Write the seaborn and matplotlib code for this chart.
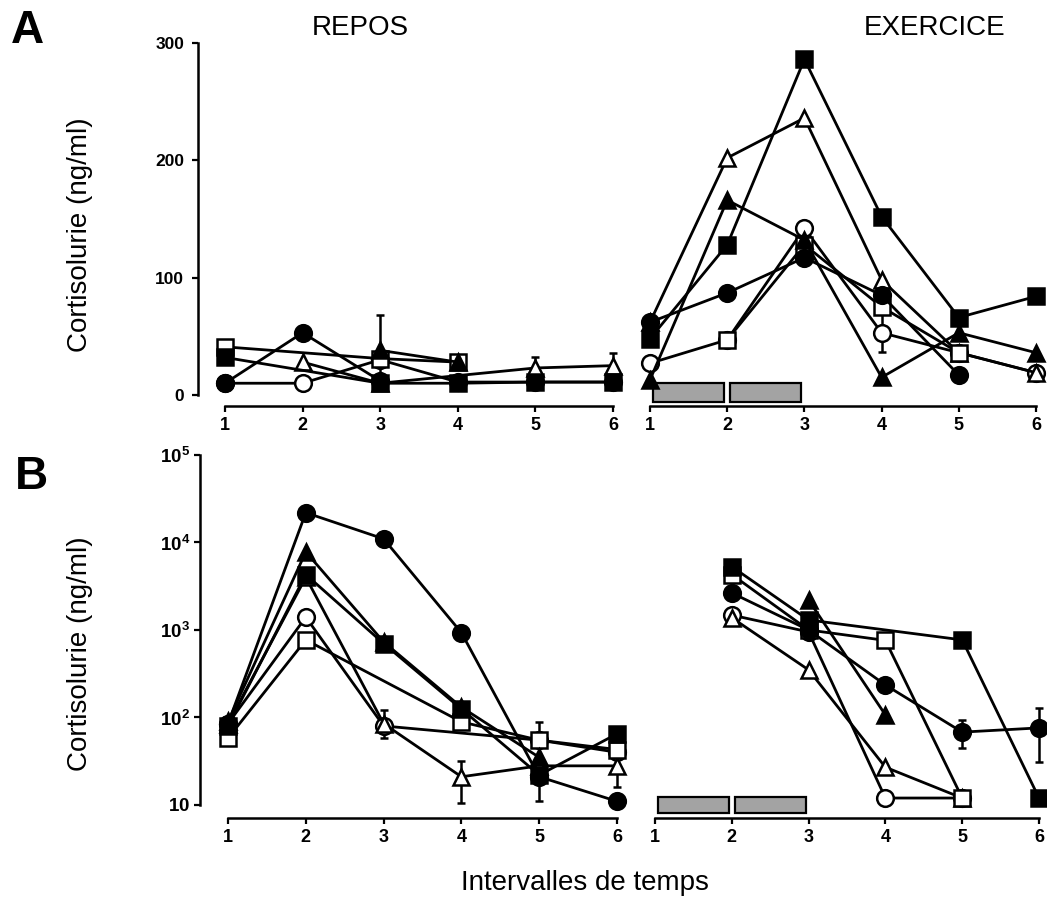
import numpy as np
import pandas as pd
import matplotlib
matplotlib.use("Agg")
import matplotlib.pyplot as plt
from matplotlib.ticker import NullLocator
import seaborn as sns

nan = np.nan
intervals = [1, 2, 3, 4, 5, 6]

# marker key: fc = filled circle, oc = open circle, fs = filled square,
# os = open square, ft = filled triangle, ot = open triangle
# (drawing order: open markers first, filled ones on top)
series_keys = ["oc", "ot", "os", "fs", "ft", "fc"]

# Panel A (linear, ng/ml) - repos
a_repos = {
    "fc": [10, 53, 12, nan, nan, nan],
    "oc": [10, 10, 30, 11, 11, 11],
    "fs": [32, nan, 10, 10, 11, 11],
    "os": [41, nan, 31, 28, nan, nan],
    "ft": [nan, nan, 38, 28, nan, nan],
    "ot": [nan, 28, 10, nan, 23, 25],
}
# Panel A - exercice
a_exo = {
    "fc": [62, 87, 117, 85, 17, nan],
    "oc": [27, 47, 142, 53, 36, 19],
    "fs": [48, 128, 286, 152, 66, 84],
    "os": [nan, 47, 128, 75, 36, nan],
    "ft": [13, 166, 132, 15, 53, 36],
    "ot": [62, 202, 236, 98, 36, 19],
}
# Panel B (log, ng/ml) - repos
b_repos = {
    "fc": [85, 21900, 11000, 930, 21, 11],
    "oc": [85, 1400, 80, nan, 55, 40],
    "fs": [80, 4300, 700, 125, 22, 65],
    "os": [58, 770, nan, 89, 55, 43],
    "ft": [90, 7800, 730, 131, 35, nan],
    "ot": [85, 4000, 85, 21, 28, 28],
}
# Panel B - exercice
b_exo = {
    "fc": [nan, 2650, 1000, 235, 68, 76],
    "oc": [nan, 1480, 950, 12, 12, nan],
    "fs": [nan, 5300, 1300, nan, 770, 12],
    "os": [nan, 4300, 1000, 760, 12, nan],
    "ft": [nan, nan, 2200, 107, nan, nan],
    "ot": [nan, 1380, 350, 27, 12, nan],
}

# error bars: x, value, low, high
a_repos_err = {"x": [3, 5, 6], "y": [38, 23, 25], "lo": [8, 15, 15], "hi": [68, 32, 36]}
a_exo_err = {"x": [4], "y": [53], "lo": [37], "hi": [70]}
b_repos_err = {"x": [3, 4, 5, 6], "y": [87, 21, 22, 27], "lo": [58, 10.5, 11, 16], "hi": [123, 32, 89, 38]}
b_exo_err = {"x": [5, 6], "y": [68, 76], "lo": [45, 31], "hi": [93, 129]}

# exercise periods (shaded blocks)
exercise_start = [1, 2]
exercise_end = [2, 3]

styles = {
    "fc": ("o", "black", 12),
    "oc": ("o", "white", 12),
    "fs": ("s", "black", 11),
    "os": ("s", "white", 11),
    "ft": ("^", "black", 12),
    "ot": ("^", "white", 12),
}

sns.set_style("ticks")
plt.rcParams["font.family"] = ["Liberation Sans", "DejaVu Sans"]
plt.rcParams["mathtext.fontset"] = "custom"
plt.rcParams["mathtext.rm"] = "Liberation Sans"
plt.rcParams["mathtext.bf"] = "Liberation Sans:bold"
plt.rcParams["text.color"] = "black"
plt.rcParams["axes.edgecolor"] = "black"
plt.rcParams["xtick.color"] = "black"
plt.rcParams["ytick.color"] = "black"

W, H = 1047, 913
fig = plt.figure(figsize=(W / 100, H / 100), dpi=100)


def px_axes(left, top, right, bottom):
    return fig.add_axes([left / W, 1 - bottom / H, (right - left) / W, (bottom - top) / H])


ax_a1 = px_axes(198, 37, 628.5, 406)
ax_a2 = px_axes(634.6, 37, 1046.8, 406)
ax_b1 = px_axes(200, 450.6, 632.6, 818)
ax_b2 = px_axes(639.6, 450.6, 1046.7, 818)

ax_a1.set_xlim(0.652, 6.2)
ax_a2.set_xlim(0.8, 6.14)
ax_b1.set_xlim(0.64, 6.2)
ax_b2.set_xlim(0.8, 6.1)
for ax in (ax_a1, ax_a2):
    ax.set_ylim(-9.4, 305)
for ax in (ax_b1, ax_b2):
    ax.set_yscale("log")
    ax.set_ylim(10 ** 0.851, 10 ** 5.05)


def draw_series(ax, data, err):
    y = np.array(err["y"], dtype=float)
    yerr = [y - np.array(err["lo"]), np.array(err["hi"]) - y]
    ax.errorbar(err["x"], y, yerr=yerr, fmt="none", ecolor="black",
                elinewidth=1.8, capsize=3, capthick=1.8, zorder=2)
    for key in series_keys:
        m, face, ms = styles[key]
        df = pd.DataFrame({"interval": intervals, "value": data[key]}).dropna()
        sns.lineplot(data=df, x="interval", y="value", ax=ax, color="black",
                     errorbar=None, linewidth=2.0, marker=m, markersize=ms,
                     markerfacecolor=face, markeredgecolor="black",
                     markeredgewidth=1.8, clip_on=False, zorder=3)
    ax.set_xlabel("")
    ax.set_ylabel("")


draw_series(ax_a1, a_repos, a_repos_err)
draw_series(ax_a2, a_exo, a_exo_err)
draw_series(ax_b1, b_repos, b_repos_err)
draw_series(ax_b2, b_exo, b_exo_err)

# shaded exercise blocks
starts = np.array(exercise_start, dtype=float)
ends = np.array(exercise_end, dtype=float)
centers = (starts + ends) / 2
widths = (ends - starts) * 0.92
ax_a2.bar(centers, [16, 16], bottom=-6, width=widths, color="#a3a3a3",
          edgecolor="black", linewidth=1.6, zorder=1)
ax_b2.bar(centers, [12.3 - 8.1, 12.3 - 8.1], bottom=8.1, width=widths, color="#a3a3a3",
          edgecolor="black", linewidth=1.6, zorder=1)

for ax in (ax_a1, ax_a2, ax_b1, ax_b2):
    for s in ("top", "right"):
        ax.spines[s].set_visible(False)
    ax.spines["bottom"].set_bounds(1, 6)
    ax.spines["bottom"].set_linewidth(1.8)
    ax.spines["left"].set_linewidth(1.8)
    ax.set_xticks(intervals)
    ax.set_xticklabels([str(i) for i in intervals], fontsize=13, fontweight="bold")
    ax.tick_params(axis="x", direction="out", length=4, width=1.6, pad=4)
    ax.tick_params(axis="y", direction="out", length=4, width=1.6)
    ax.patch.set_alpha(0)

for ax in (ax_a2, ax_b2):
    ax.spines["left"].set_visible(False)
    ax.tick_params(axis="y", which="both", left=False, labelleft=False)

ax_a1.spines["left"].set_bounds(0, 300)
ax_a1.set_yticks([0, 100, 200, 300])
ax_a1.set_yticklabels(["0", "100", "200", "300"], fontsize=12.5, fontweight="bold")
ax_a1.tick_params(axis="y", pad=6)

ax_b1.spines["left"].set_bounds(10, 1e5)
ax_b1.yaxis.set_minor_locator(NullLocator())
ax_b1.set_yticks([10, 1e2, 1e3, 1e4, 1e5])
ax_b1.set_yticklabels([r"$\mathbf{10}$", r"$\mathbf{10^2}$", r"$\mathbf{10^3}$",
                       r"$\mathbf{10^4}$", r"$\mathbf{10^5}$"], fontsize=13.5)
ax_b1.tick_params(axis="y", pad=3)
ax_b2.yaxis.set_minor_locator(NullLocator())

# texts
fig.text(27 / W, 1 - 31 / H, "A", fontsize=33, fontweight="heavy", ha="center", va="center")
fig.text(31 / W, 1 - 477 / H, "B", fontsize=33, fontweight="heavy", ha="center", va="center")
fig.text(360 / W, 1 - 28 / H, "REPOS", fontsize=20, ha="center", va="center")
fig.text(935 / W, 1 - 28 / H, "EXERCICE", fontsize=20, ha="center", va="center")
fig.text(80 / W, 1 - 235 / H, "Cortisolurie (ng/ml)", fontsize=20, rotation=90,
         ha="center", va="center")
fig.text(80 / W, 1 - 654 / H, "Cortisolurie (ng/ml)", fontsize=20, rotation=90,
         ha="center", va="center")
fig.text(585 / W, 1 - 883 / H, "Intervalles de temps", fontsize=20, ha="center", va="center")

fig.savefig("out.png", dpi=100)
